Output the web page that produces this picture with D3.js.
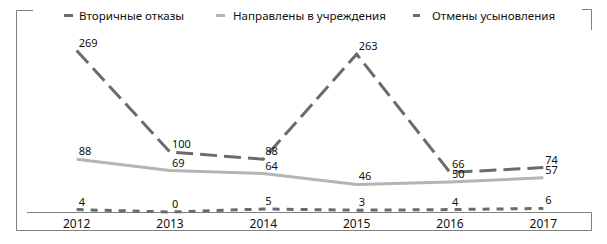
<!DOCTYPE html>
<html><head><meta charset="utf-8">
<script src="https://cdn.jsdelivr.net/npm/d3@7"></script>
<style>
html,body{margin:0;padding:0;background:#fff;}
svg{display:block;font-family:"Noto Sans",sans-serif;}
</style></head>
<body>
<svg id="chart" width="607" height="244"></svg>
<script>
const years = ["2012","2013","2014","2015","2016","2017"];
const seriesNames = ["Вторичные отказы","Направлены в учреждения","Отмены усыновления"];
const secondaryRefusals = [269,100,88,263,66,74];
const sentToInstitutions = [88,69,64,46,50,57];
const adoptionCancellations = [4,0,5,3,4,6];
const yDomain = [0,300];

const series = [
  {name: seriesNames[0], values: secondaryRefusals, color:"#6b6b6b", dash:"17,7", width:3},
  {name: seriesNames[1], values: sentToInstitutions, color:"#b4b4b4", dash:null, width:3},
  {name: seriesNames[2], values: adoptionCancellations, color:"#6b6b6b", dash:"7,7", width:3}
];

const svg = d3.select("#chart");
const x = d3.scaleBand().domain(years).range([30,590]);
const y = d3.scaleLinear().domain(yDomain).range([212,32]);
const cx = d => x(d) + x.bandwidth()/2;

// frame pieces
const frame = svg.append("g").attr("stroke","#808080").attr("stroke-width",1).attr("fill","none");
frame.append("path").attr("d","M33,10.5H16.5V230.5H591.5V212.5");
frame.append("path").attr("d","M582,9.5H591.5V30");

// x axis
const xAxis = d3.axisBottom(x).tickSize(0).tickPadding(7);
const gx = svg.append("g").attr("transform","translate(0,212.5)").call(xAxis);
gx.select(".domain").attr("d","M27,0H591.5").attr("stroke","#808080");
gx.selectAll("text").attr("font-size","12px").attr("fill","#111").attr("font-family","Noto Sans");

// lines
const line = d3.line().x((d,i)=>cx(years[i])).y(d=>y(d));
series.forEach(s=>{
  svg.append("path").datum(s.values)
    .attr("d", line).attr("fill","none")
    .attr("stroke", s.color).attr("stroke-width", s.width)
    .attr("stroke-dasharray", s.dash);
});

// labels
series.forEach(s=>{
  svg.append("g").selectAll("text").data(s.values).join("text")
    .attr("x",(d,i)=>cx(years[i])+2)
    .attr("y",d=>y(d)-4)
    .attr("font-size","11px").attr("fill","#111")
    .text(d=>d);
});

// legend
const legendPos = [{lx:64,len:9,tx:79},{lx:216,len:9,tx:233},{lx:413,len:7,tx:432}];
series.forEach((s,i)=>{
  const p = legendPos[i];
  svg.append("line").attr("x1",p.lx).attr("x2",p.lx+p.len).attr("y1",15.5).attr("y2",15.5)
    .attr("stroke",s.color).attr("stroke-width",3);
  svg.append("text").attr("x",p.tx).attr("y",20).attr("font-size","11.6px").attr("fill","#111").text(s.name);
});
</script>
</body></html>
